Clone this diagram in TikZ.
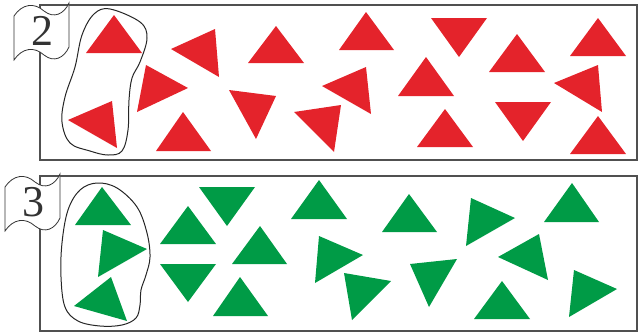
\documentclass[tikz,border=0pt]{standalone}
\usepackage{fontspec}
\setmainfont{Liberation Serif}
\usepackage{xcolor}
\definecolor{TriRed}{RGB}{228, 35, 43}
\definecolor{TriGreen}{RGB}{0, 155, 70}
\definecolor{FrameGray}{RGB}{80, 80, 80}

\begin{document}
\begin{tikzpicture}[
            x=1pt, y=-1pt,
            frame/.style={draw=FrameGray, line width=1.3pt},
            lasso/.style={draw=black!85, line width=1pt},
            flagshape/.style={draw=black!80, fill=white, line width=0.8pt},
            redtri/.style={fill=TriRed},
            greentri/.style={fill=TriGreen},
            digit/.style={font=\fontsize{44}{44}\selectfont, text=black!80, inner sep=0pt}
        ]
            \useasboundingbox (0,0) rectangle (639,335);

            % Frames
            \draw[frame] (40,5) rectangle (637,160);
            \draw[frame] (40,176) rectangle (637,331);

            % Lassos round the first triangles
            \draw[lasso] plot[smooth cycle, tension=0.6] coordinates {
                (110,9) (140,22) (147,38) (140,62) (132,78) (129,100) (128,130)
                (122,151) (108,155) (90,151) (70,143) (62,122) (65,97) (75,67)
                (82,35) (94,14)};
            \draw[lasso] plot[smooth cycle, tension=0.6] coordinates {
                (97,183) (117,188) (137,207) (147,233) (150,257) (146,275)
                (141,290) (140,305) (136,318) (122,325) (100,326) (78,321)
                (65,307) (61,277) (62,243) (68,210) (80,190)};

            % Red triangles
            \foreach \ax/\ay/\bx/\by/\cx/\cy in {
                114/15/86/53/142/53, 68/120/112/101/117/148,
                146/65/188/88/137/112, 183/112/156/151/211/151,
                171/49/215/29/219/77, 276/26/248/63/304/63,
                229/90/276/96/256/139, 294/112/341/105/334/152,
                322/86/366/67/371/114, 366/12/339/50/394/50,
                431/18/487/18/459/57, 426/57/398/96/454/96,
                445/109/417/147/473/147, 517/34/489/72/545/72,
                495/102/551/102/523/141, 598/18/570/56/626/56,
                554/83/598/65/602/112, 598/116/570/154/626/154}
                \fill[redtri] (\ax,\ay) -- (\bx,\by) -- (\cx,\cy) -- cycle;

            % Green triangles
            \foreach \ax/\ay/\bx/\by/\cx/\cy in {
                102/187/75/225/131/225, 103/230/147/249/98/277,
                74/306/111/277/127/321, 188/206/160/244/216/244,
                160/264/216/264/188/302, 199/187/255/187/227/226,
                260/226/232/264/287/264, 240/277/213/316/268/316,
                319/180/291/219/347/219, 319/236/363/255/315/283,
                344/273/391/281/352/320, 409/194/382/232/437/232,
                410/264/457/259/429/307, 471/198/515/218/466/246,
                572/183/544/222/599/222, 498/257/539/234/548/280,
                502/281/474/319/530/319, 574/270/617/289/569/317}
                \fill[greentri] (\ax,\ay) -- (\bx,\by) -- (\cx,\cy) -- cycle;

            % Number flags
            \foreach \dx/\dy/\num in {0/0/2, -9/171/3} {
                \begin{scope}[shift={(\dx,\dy)}]
                    \draw[flagshape] (14,16) .. controls (22,4) and (34,2) .. (44,11)
                        .. controls (54,19) and (64,14) .. (69,3) -- (69,47)
                        .. controls (64,58) and (54,63) .. (44,55)
                        .. controls (34,46) and (22,48) .. (14,60) -- cycle;
                    \node[digit] (num\num) at (42,31) {\num};
                \end{scope}
            }
        \end{tikzpicture}
\end{document}
